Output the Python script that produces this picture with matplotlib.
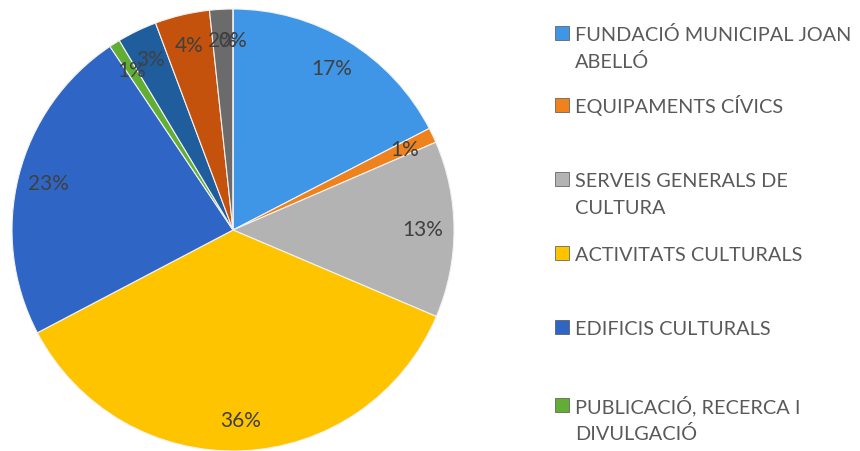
import numpy as np
import matplotlib.pyplot as plt
from matplotlib.patches import Rectangle

# share of each item (percent), clockwise from 12 o'clock
values = [17.4, 1.1, 12.9, 35.9, 23.3, 0.8, 2.9, 4.0, 1.7, 0.0]
colors = ['#3f96e6', '#f0821e', '#b3b3b3', '#ffc400', '#2f66c6',
          '#62ad34', '#1f5d9c', '#c4520c', '#6b6b6b', '#2a4f80']
# only the first six entries fit in the legend
legend_labels = ['FUNDACIÓ MUNICIPAL JOAN\nABELLÓ',
                 'EQUIPAMENTS CÍVICS',
                 'SERVEIS GENERALS DE\nCULTURA',
                 'ACTIVITATS CULTURALS',
                 'EDIFICIS CULTURALS',
                 'PUBLICACIÓ, RECERCA I\nDIVULGACIÓ']

plt.rcParams['font.family'] = ['Lato', 'DejaVu Sans']

W, H = 860, 452
fig = plt.figure(figsize=(W / 100, H / 100), dpi=100)

cx, cy, r = 233, 231, 221
ax = fig.add_axes([(cx - r) / W, (H - cy - r) / H, 2 * r / W, 2 * r / H])
wedges, texts, autotexts = ax.pie(
    values, colors=colors, startangle=90, counterclock=False,
    autopct=lambda p: f'{p:.0f}%', pctdistance=0.86,
    wedgeprops=dict(edgecolor='#f2f2f2', linewidth=0.8),
    textprops=dict(fontsize=15, color='#404040'))
ax.set_xlim(-1, 1)
ax.set_ylim(-1, 1)
ax.set_aspect('equal')
ax.axis('off')

# legend: cap-height centre of each entry's first line, in pixels from top
entry_y = [34, 106, 180, 254, 328, 406]
line_gap = 27
cap = 14.5
for i, lab in enumerate(legend_labels):
    y = entry_y[i]
    fig.patches.append(Rectangle((555 / W, (H - y - 7) / H), 14 / W, 14 / H,
                                 transform=fig.transFigure, facecolor=colors[i],
                                 edgecolor='#505050', linewidth=0.5))
    for k, line in enumerate(lab.split('\n')):
        base = y + cap / 2 + k * line_gap
        fig.text(575 / W, (H - base) / H, line, fontsize=14.3, color='#595959',
                 ha='left', va='baseline')

fig.savefig('out.png', dpi=100)
